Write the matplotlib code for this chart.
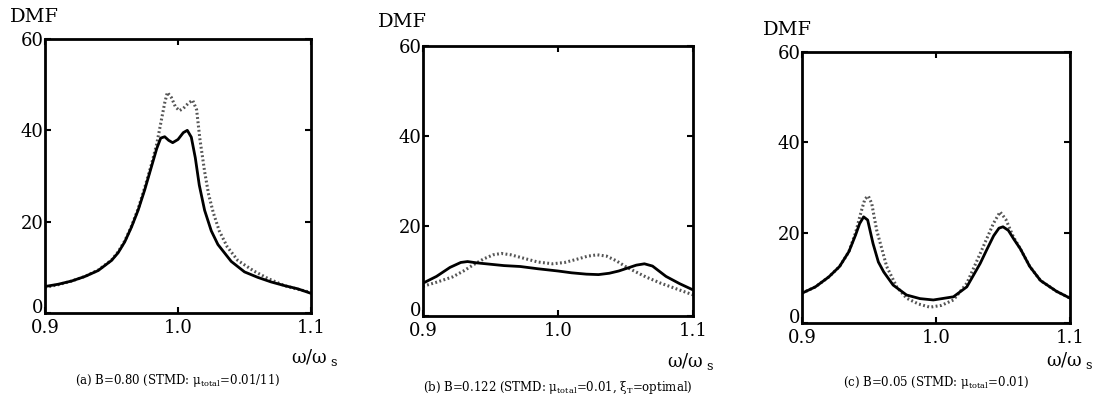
import numpy as np
import matplotlib.pyplot as plt
import matplotlib.transforms as mtransforms

plt.rcParams['font.family'] = ['DejaVu Serif']
plt.rcParams['mathtext.fontset'] = 'dejavuserif'

# (a) B=0.80
xa_solid = [0.900, 0.910, 0.920, 0.930, 0.940, 0.950, 0.955, 0.960, 0.965, 0.970,
            0.975, 0.980, 0.984, 0.987, 0.990, 0.993, 0.996, 1.000, 1.004, 1.007,
            1.010, 1.013, 1.016, 1.020, 1.025, 1.030, 1.040, 1.050, 1.060, 1.070,
            1.080, 1.090, 1.100]
ya_solid = [5.8, 6.3, 7.0, 8.0, 9.3, 11.5, 13.2, 15.6, 18.8, 22.5,
            27.0, 32.0, 36.0, 38.3, 38.6, 37.8, 37.3, 38.0, 39.5, 40.0,
            38.5, 34.0, 28.0, 22.5, 18.0, 15.0, 11.3, 9.0, 7.8, 6.8,
            6.0, 5.3, 4.3]
xa_dot = [0.900, 0.910, 0.920, 0.930, 0.940, 0.950, 0.955, 0.960, 0.965, 0.970,
          0.975, 0.980, 0.984, 0.987, 0.990, 0.992, 0.995, 0.998, 1.001, 1.004,
          1.008, 1.011, 1.014, 1.0165, 1.020, 1.023, 1.0265, 1.031, 1.037, 1.045,
          1.057, 1.068, 1.080, 1.090, 1.100]
ya_dot = [5.6, 6.2, 7.0, 8.0, 9.4, 11.6, 13.4, 15.8, 19.0, 22.8,
          27.5, 32.5, 37.0, 41.5, 46.0, 48.3, 47.2, 45.2, 44.3, 44.8,
          46.0, 46.6, 44.5, 38.0, 31.0, 26.0, 22.0, 18.0, 14.5, 11.5,
          9.2, 7.5, 6.0, 5.2, 4.5]

# (b) B=0.122
xb_solid = [0.900, 0.910, 0.920, 0.928, 0.933, 0.940, 0.950, 0.960, 0.972, 0.985,
            1.000, 1.010, 1.021, 1.030, 1.038, 1.045, 1.051, 1.058, 1.064, 1.070,
            1.080, 1.090, 1.100]
yb_solid = [7.3, 8.8, 10.8, 11.9, 12.1, 11.8, 11.5, 11.2, 11.0, 10.5,
            10.0, 9.6, 9.3, 9.2, 9.5, 10.0, 10.6, 11.3, 11.6, 11.1,
            8.8, 7.2, 5.8]
xb_dot = [0.900, 0.910, 0.922, 0.930, 0.938, 0.945, 0.952, 0.958, 0.965, 0.975,
          0.985, 0.996, 1.005, 1.015, 1.022, 1.029, 1.036, 1.043, 1.050, 1.055,
          1.065, 1.076, 1.088, 1.100]
yb_dot = [6.6, 7.5, 8.7, 10.0, 11.5, 12.7, 13.6, 13.9, 13.6, 12.8,
          12.0, 11.6, 11.9, 12.7, 13.3, 13.6, 13.3, 12.3, 11.0, 10.2,
          8.7, 7.3, 6.0, 4.7]

# (c) B=0.05
xc_solid = [0.900, 0.910, 0.920, 0.928, 0.935, 0.940, 0.943, 0.946, 0.949, 0.953,
            0.957, 0.961, 0.968, 0.978, 0.988, 0.998, 1.013, 1.023, 1.033, 1.038,
            1.043, 1.047, 1.050, 1.054, 1.058, 1.063, 1.070, 1.078, 1.090, 1.100]
yc_solid = [6.6, 8.0, 10.2, 12.5, 15.8, 19.5, 22.0, 23.5, 22.8, 17.6,
            13.5, 11.3, 8.4, 6.2, 5.4, 5.1, 5.8, 8.0, 13.2, 16.3,
            19.3, 21.0, 21.3, 20.5, 18.6, 16.4, 12.5, 9.4, 7.0, 5.5]
xc_dot = [0.900, 0.910, 0.920, 0.928, 0.935, 0.940, 0.944, 0.947, 0.9495, 0.952,
          0.9557, 0.9632, 0.9707, 0.978, 0.987, 0.9955, 1.004, 1.013, 1.023, 1.033,
          1.0428, 1.0478, 1.052, 1.0577, 1.063, 1.070, 1.078, 1.090, 1.100]
yc_dot = [6.6, 8.0, 10.2, 12.5, 15.8, 20.0, 24.5, 27.5, 28.1, 26.5,
          20.6, 12.5, 8.0, 5.5, 4.2, 3.5, 3.9, 5.1, 8.8, 15.4,
          22.0, 24.6, 23.0, 19.1, 16.4, 12.5, 9.4, 7.0, 5.5]

captions = ['(a) B=0.80 (STMD: μ$_{\\rm total}$=0.01/11)',
            '(b) B=0.122 (STMD: μ$_{\\rm total}$=0.01, ξ$_{\\rm T}$=optimal)',
            '(c) B=0.05 (STMD: μ$_{\\rm total}$=0.01)']
xticks = [0.9, 1.0, 1.1]
xticklabels = ['0.9', '1.0', '1.1']
yticks = [0, 20, 40, 60]

series = [(xa_solid, ya_solid, xa_dot, ya_dot),
          (xb_solid, yb_solid, xb_dot, yb_dot),
          (xc_solid, yc_solid, xc_dot, yc_dot)]

# axes rectangles in figure pixels (left, top, right, bottom)
W, H = 1093, 400
boxes = [(45, 39, 311, 313), (423, 46, 693, 316), (802, 52, 1070, 323)]
dmf_pos = [(-0.13, 1.08), (-0.167, 1.089), (-0.146, 1.081)]
wlabel_pos = [(1.015, -0.164), (0.993, -0.17), (1.0, -0.14)]
cap_y = [-0.245, -0.263, -0.221]

fig = plt.figure(figsize=(W / 100, H / 100), dpi=100)

for k in range(3):
    l, t, r, b = boxes[k]
    ax = fig.add_axes([l / W, 1 - b / H, (r - l) / W, (b - t) / H])
    xs, ys, xd, yd = series[k]
    ax.plot(xd, yd, color='#555555', linestyle=(0, (0.6, 0.8)), linewidth=2.2)
    ax.plot(xs, ys, color='black', linewidth=2.0)
    ax.set_xlim(0.9, 1.1)
    ax.set_ylim(0, 60)
    ax.set_xticks(xticks)
    ax.set_xticklabels(xticklabels)
    ax.set_yticks(yticks)
    ax.tick_params(axis='both', labelsize=13, direction='in', length=4, width=1.5,
                   top=True, right=True)
    ax.tick_params(axis='x', pad=4)
    ax.tick_params(axis='y', pad=1)
    # the "0" sits just above "0.9" as in the original
    lab0 = ax.get_yticklabels()[0]
    lab0.set_verticalalignment('bottom')
    lab0.set_transform(lab0.get_transform() +
                       mtransforms.ScaledTranslation(0, -0.04, fig.dpi_scale_trans))
    for s in ax.spines.values():
        s.set_linewidth(2.0)
    ax.text(dmf_pos[k][0], dmf_pos[k][1], 'DMF', transform=ax.transAxes,
            fontsize=14, ha='left', va='center')
    ax.text(wlabel_pos[k][0], wlabel_pos[k][1], 'ω/ω$_{\\ \\rm s}$',
            transform=ax.transAxes, fontsize=13, ha='center', va='center')
    ax.text(0.5, cap_y[k], captions[k], transform=ax.transAxes,
            fontsize=8.5, ha='center', va='center')

fig.savefig('out.png', dpi=100)
